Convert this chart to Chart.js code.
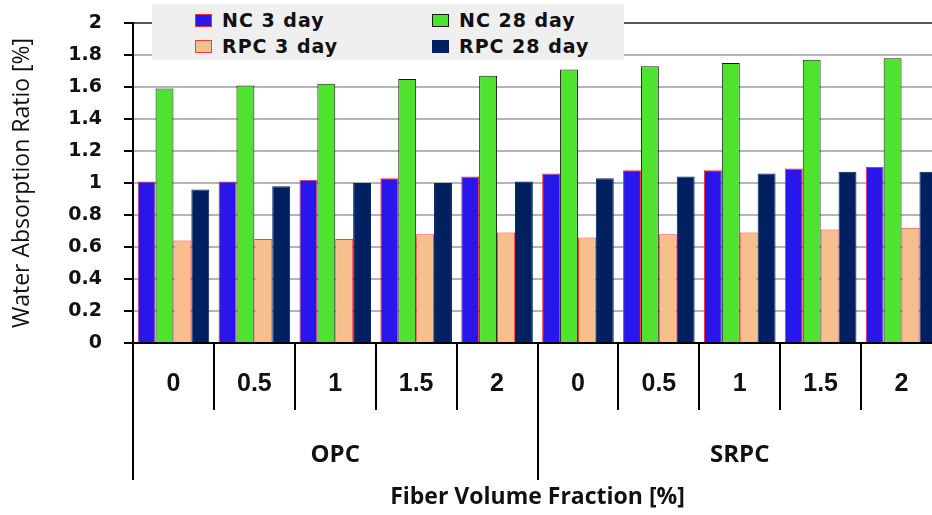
<!DOCTYPE html>
<html><head><meta charset="utf-8">
<script src="https://cdn.jsdelivr.net/npm/chart.js@4.4.0/dist/chart.umd.min.js"></script>
<style>
html,body{margin:0;padding:0;background:#fff;overflow:hidden;width:932px;height:515px;}
#wrap{position:relative;width:942px;height:515px;}
#legend{position:absolute;left:152px;top:4px;width:472px;height:56px;background:#efefef;}
.item{position:absolute;display:flex;align-items:center;height:22px;line-height:22px;font-family:"DejaVu Sans";font-weight:bold;font-size:19px;color:#111;letter-spacing:1px;white-space:nowrap;}
.box{width:15px;height:11px;margin-right:10px;border:1px solid;box-sizing:content-box;}
</style></head><body>
<div id="wrap"><canvas id="c" width="942" height="515"></canvas><div id="legend"></div></div>
<script>
const categories = ['0','0.5','1','1.5','2','0','0.5','1','1.5','2'];
const groups = ['OPC','SRPC'];
const seriesNames = ['NC 3 day','NC 28 day','RPC 3 day','RPC 28 day'];
const nc3   = [1.01,1.01,1.02,1.03,1.04,1.06,1.08,1.08,1.09,1.10];
const nc28  = [1.59,1.61,1.62,1.65,1.67,1.71,1.73,1.75,1.77,1.78];
const rpc3  = [0.64,0.65,0.65,0.68,0.69,0.66,0.68,0.69,0.71,0.72];
const rpc28 = [0.96,0.98,1.00,1.00,1.01,1.03,1.04,1.06,1.07,1.07];
const yTickLabels = ['0','0.2','0.4','0.6','0.8','1','1.2','1.4','1.6','1.8','2'];

const fills = ['#2816ea','#4fe22e','#f8bf8e','#00205f'];
const borders = ['#ff2a2a','#1a1a1a','#ff3a3a','#00205f'];
const seriesData = [nc3, nc28, rpc3, rpc28];

const datasets = seriesNames.map((n,i)=>({
  label:n, data:seriesData[i], backgroundColor:fills[i], borderColor:borders[i], borderWidth:1
}));

// HTML legend
const legend = document.getElementById('legend');
const pos = [[43,5],[280,5],[43,31],[280,31]];
seriesNames.forEach((n,i)=>{
  const it = document.createElement('div');
  it.className='item';
  it.style.left=pos[i][0]+'px'; it.style.top=pos[i][1]+'px';
  const b=document.createElement('span'); b.className='box';
  b.style.background=fills[i]; b.style.borderColor=borders[i];
  const t=document.createElement('span'); t.textContent=n;
  it.appendChild(b); it.appendChild(t); legend.appendChild(it);
});

new Chart(document.getElementById('c'), {
  type:'bar',
  data:{labels:categories, datasets},
  options:{
    responsive:false, animation:false,
    layout:{padding:{top:23,left:0,right:0,bottom:0}},
    plugins:{legend:{display:false}, tooltip:{enabled:false}},
    datasets:{bar:{categoryPercentage:0.885, barPercentage:1}},
    scales:{
      x:{type:'category', labels:categories, position:'bottom', offset:true,
        grid:{offset:true, drawOnChartArea:false, drawTicks:true, tickLength:67, tickColor:'#000', tickWidth:2, color:'#000', lineWidth:2},
        border:{display:true, color:'#000', width:2},
        ticks:{font:{family:'Liberation Sans', weight:'bold', size:25}, color:'#111', padding:-41, autoSkip:false, maxRotation:0},
        afterFit(s){s.height=57;}},
      x2:{type:'category', labels:groups, position:'bottom', offset:true,
        grid:{offset:true, drawOnChartArea:false, drawTicks:true, tickLength:80, tickColor:'#000', tickWidth:2, color:'#000', lineWidth:2},
        border:{display:false},
        ticks:{font:{family:'Open Sans', weight:'bold', size:24}, color:'#111', padding:-39, autoSkip:false, maxRotation:0},
        title:{display:true, text:'Fiber Volume Fraction [%]', font:{family:'Open Sans', weight:'bold', size:23}, color:'#111', padding:{top:0,bottom:4}},
        afterFit(s){s.height=115;}},
      y:{min:0, max:2,
        ticks:{stepSize:0.2, callback:(v,i)=>yTickLabels[i], font:{family:'DejaVu Sans', weight:'bold', size:19}, color:'#111', padding:0},
        grid:{color:c=>(c.tick && c.tick.value===2)?'#555':'#b4b4b4', lineWidth:2, tickLength:31, tickColor:'#000', tickWidth:2, tickBorderDash:[9,22], tickBorderDashOffset:9},
        border:{display:true, color:'#000', width:2},
        title:{display:true, text:'Water Absorption Ratio [%]', font:{family:'Open Sans', size:23}, color:'#111', padding:{top:9,bottom:0}},
        afterFit(s){s.width=133;}}
    }
  }
});
</script>
</body></html>
